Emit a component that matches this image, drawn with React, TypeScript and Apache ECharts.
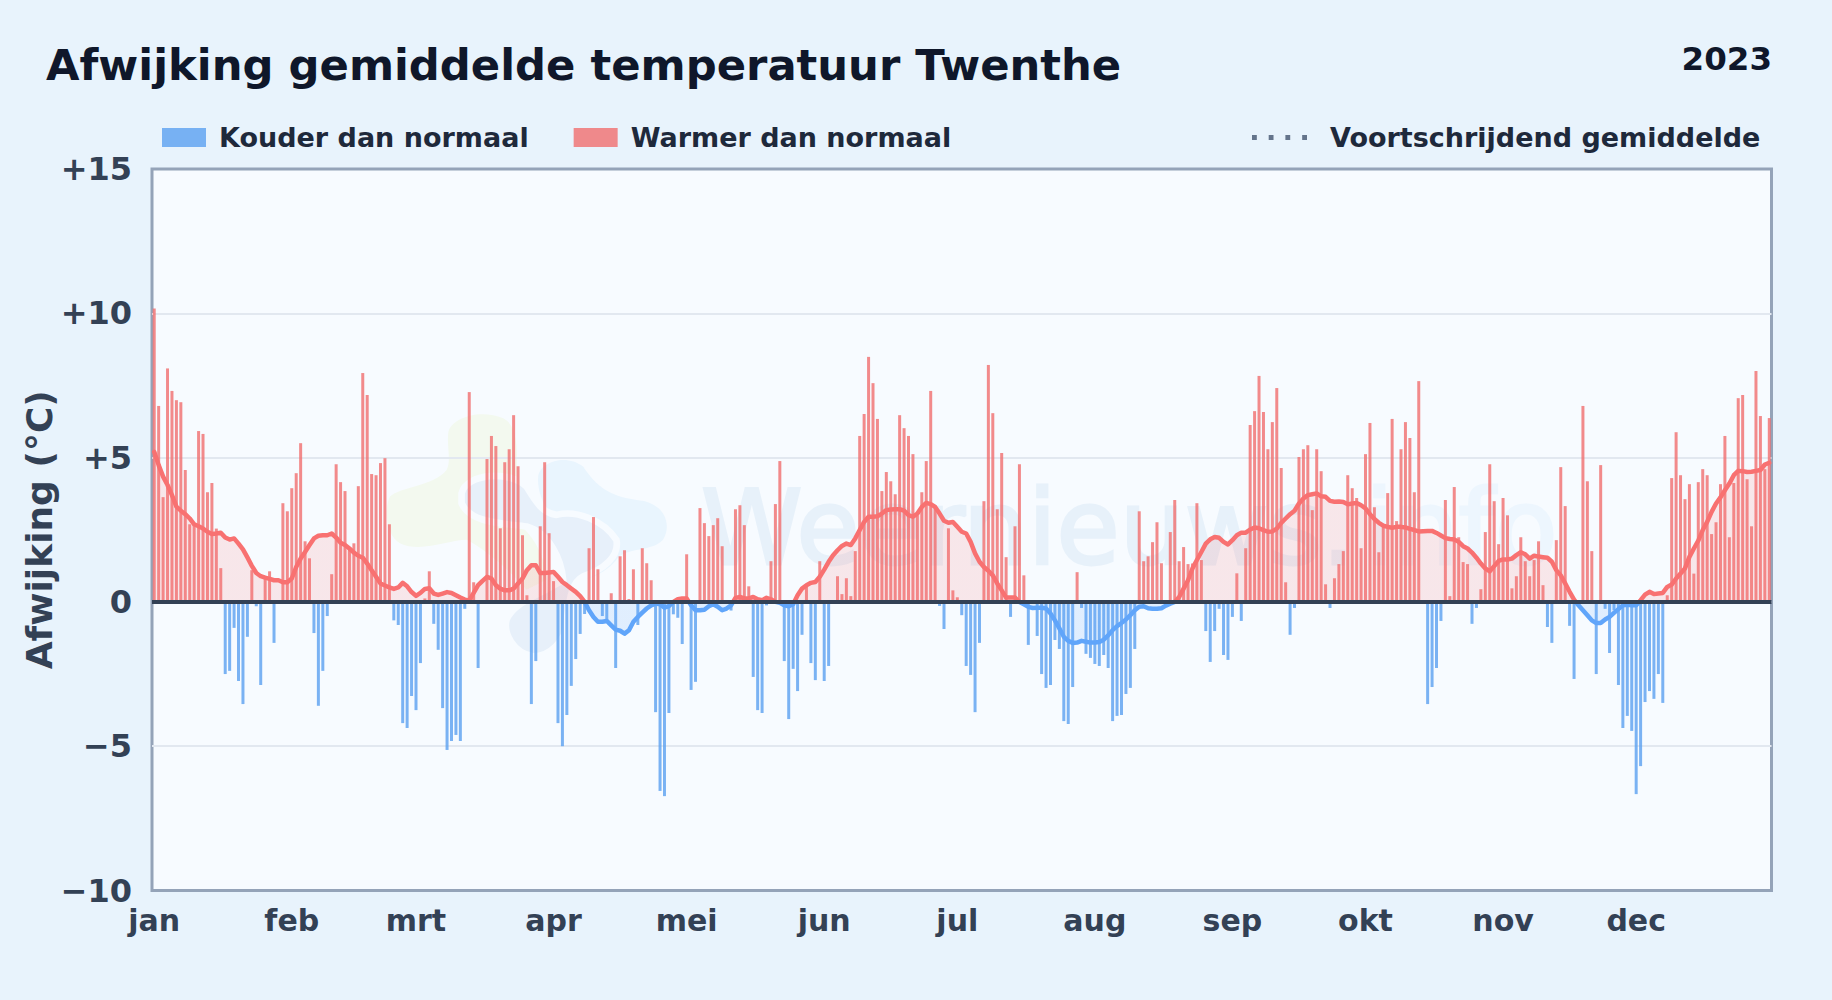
import React, { useEffect, useRef } from "react";
import * as echarts from "echarts";

const janAnomaly = [10.17,6.79,3.63,8.09,7.31,6.99,6.92,4.57,2.69,2.65,5.92,5.82,3.8,4.12,2.54,1.17,-2.5,-2.39,-0.9,-2.74,-3.54,-1.21,1.1,-0.15,-2.88,0.8,1.06,-1.42,0,3.42,3.14];
const febAnomaly = [3.94,4.46,5.5,2.1,1.51,-1.08,-3.6,-2.39,-0.49,0.96,4.77,4.15,3.84,1.85,2.03,4.01,7.93,7.17,4.43,4.39,4.81,4.98,2.69,-0.64,-0.8,-4.2,-4.37,-3.26];
const marAnomaly = [-3.75,-2.12,0.12,1.06,-0.76,-1.66,-3.68,-5.13,-4.82,-4.61,-4.82,-0.24,7.27,0.68,-2.29,0,4.95,5.75,5.4,2.55,4.84,5.29,6.47,4.7,2.31,0.23,-3.54,-2.05,2.62,4.84,2.38];
const aprAnomaly = [0.72,-4.2,-5.0,-3.92,-2.91,-1.98,-1.11,-0.42,1.86,2.94,1.13,-0.49,-0.6,0.3,-2.29,1.58,1.79,0.1,1.13,-0.8,1.86,1.34,0.75,-3.82,-6.55,-6.73,-3.85,-0.43,-0.55,-1.46];
const mayAnomaly = [1.65,-3.05,-2.77,3.25,2.73,2.28,2.66,2.9,1.93,0,-0.3,3.21,3.35,2.66,0.54,-2.6,-3.75,-3.85,-0.12,1.41,3.39,4.88,-2.05,-4.06,-2.32,-3.09,-1.14,0.54,-2.12,-2.71,1.41];
const junAnomaly = [-2.74,-2.22,0,0.89,0.27,0.82,0.2,1.76,5.75,6.51,8.49,7.58,6.34,3.84,4.5,4.18,3.73,6.47,6.02,5.75,5.12,3.0,3.8,4.88,7.31,3.3,-0.14,-0.94,2.55,0.4];
const julAnomaly = [0.16,-0.46,-2.22,-2.53,-3.82,-1.42,3.49,8.21,6.54,3.21,5.16,1.55,-0.52,2.62,4.77,0.92,-1.49,0,-1.18,-2.5,-2.98,-2.88,-1.32,-1.63,-4.13,-4.23,-2.95,1.03,-0.21,-1.8,-1.94];
const augAnomaly = [-2.15,-2.22,-1.84,-2.29,-4.13,-3.95,-3.92,-3.19,-2.98,-1.63,3.14,1.41,1.58,2.07,2.76,1.34,0,2.42,3.53,1.41,1.9,1.31,1.33,3.42,1.45,-1.01,-2.08,-1.01,-0.24,-1.84,-2.01];
const sepAnomaly = [-0.52,0.99,-0.66,1.86,6.13,6.61,7.83,6.58,5.29,6.23,7.41,4.64,0.68,-1.14,-0.21,5.02,5.29,5.43,3.18,5.29,4.53,0.61,-0.21,0.82,1.31,1.76,4.39,3.94,3.6,1.86];
const octAnomaly = [5.12,6.2,3.28,1.72,2.6,3.77,6.34,2.8,5.29,6.23,5.68,3.8,7.65,0,-3.54,-2.95,-2.29,-0.66,3.53,0.2,3.98,2.24,1.38,1.31,-0.76,-0.21,0.44,2.42,4.77,3.49,2.0];
const novAnomaly = [3.6,3.0,0.47,0.89,2.24,1.41,0.89,1.45,2.1,0.58,-0.87,-1.42,2.14,4.67,3.32,-0.83,-2.67,0,6.79,4.18,1.76,-2.5,4.74,-0.24,-1.77,-0.29,-2.88,-4.37,-3.95,-4.47];
const decAnomaly = [-6.66,-5.69,-3.47,-3.09,-3.36,-2.5,-3.5,0.23,4.29,5.88,4.39,3.56,4.08,0.98,4.15,4.6,4.39,2.35,2.76,4.08,5.75,2.24,4.12,7.06,7.17,4.25,2.62,8.0,6.44,4.6,6.37];

const janRolling = [5.2,4.74,4.34,4.05,3.7,3.3,3.16,3.04,2.89,2.69,2.62,2.54,2.43,2.35,2.37,2.4,2.23,2.16,2.2,2.02,1.82,1.54,1.25,1.0,0.89,0.84,0.8,0.75,0.75,0.68,0.68];
const febRolling = [0.81,1.21,1.5,1.73,1.97,2.2,2.29,2.31,2.31,2.37,2.23,2.05,1.97,1.85,1.71,1.6,1.53,1.33,1.1,0.87,0.64,0.57,0.5,0.45,0.5,0.66,0.54,0.34];
const marRolling = [0.21,0.31,0.45,0.47,0.29,0.24,0.29,0.34,0.31,0.23,0.15,0.08,0.05,0.31,0.58,0.73,0.87,0.81,0.58,0.46,0.4,0.4,0.46,0.64,0.81,1.1,1.27,1.27,1.0,1.0,1.02];
const aprRolling = [1.04,0.87,0.69,0.58,0.46,0.35,0.2,0,-0.29,-0.52,-0.69,-0.69,-0.66,-0.81,-0.96,-1.0,-1.1,-0.98,-0.69,-0.52,-0.37,-0.23,-0.12,-0.06,-0.08,-0.2,-0.15,0,0.09,0.12];
const mayRolling = [0.12,-0.12,-0.29,-0.29,-0.27,-0.15,-0.08,-0.17,-0.29,-0.23,-0.12,0.14,0.17,0.12,0.12,0.17,0.09,0.06,0.14,0.09,0,-0.03,-0.12,-0.15,-0.08,0.23,0.46,0.58,0.66,0.69,0.87];
const junRolling = [1.12,1.39,1.62,1.79,1.94,2.02,1.97,2.2,2.49,2.77,2.95,2.95,2.97,3.06,3.18,3.2,3.21,3.21,3.16,3.01,2.95,3.06,3.29,3.43,3.39,3.29,3.06,2.81,2.74,2.77];
const julRolling = [2.6,2.43,2.37,2.08,1.68,1.39,1.21,1.08,0.92,0.64,0.4,0.15,0.15,0.15,0,-0.08,-0.17,-0.21,-0.2,-0.2,-0.23,-0.4,-0.64,-0.92,-1.21,-1.35,-1.42,-1.41,-1.35,-1.38,-1.41];
const augRolling = [-1.41,-1.39,-1.31,-1.16,-0.98,-0.84,-0.73,-0.61,-0.46,-0.29,-0.17,-0.15,-0.22,-0.24,-0.24,-0.22,-0.13,-0.06,0,0.17,0.46,0.75,1.16,1.45,1.73,2.02,2.17,2.25,2.22,2.08,1.99];
const sepRolling = [2.14,2.31,2.4,2.4,2.51,2.58,2.55,2.49,2.43,2.44,2.54,2.74,2.89,3.04,3.16,3.41,3.58,3.7,3.73,3.76,3.66,3.64,3.5,3.47,3.48,3.46,3.38,3.41,3.43,3.35];
const octRolling = [3.24,3.04,2.87,2.74,2.64,2.6,2.57,2.6,2.6,2.58,2.53,2.49,2.44,2.45,2.46,2.46,2.39,2.3,2.21,2.18,2.16,2.08,1.93,1.85,1.71,1.53,1.33,1.16,1.06,1.24,1.42];
const novRolling = [1.47,1.47,1.5,1.62,1.72,1.65,1.5,1.6,1.57,1.55,1.53,1.39,1.1,0.92,0.64,0.35,0.08,-0.12,-0.29,-0.46,-0.64,-0.73,-0.73,-0.61,-0.52,-0.38,-0.25,-0.12,-0.1,-0.12];
const decRolling = [-0.12,0.06,0.25,0.35,0.27,0.29,0.31,0.52,0.6,0.81,0.98,1.16,1.56,1.85,2.12,2.49,2.77,3.12,3.41,3.62,3.87,4.1,4.39,4.54,4.53,4.5,4.51,4.54,4.57,4.76,4.82];

const monthLabels = ["jan","feb","mrt","apr","mei","jun","jul","aug","sep","okt","nov","dec"];
const anomalyByMonth = [janAnomaly,febAnomaly,marAnomaly,aprAnomaly,mayAnomaly,junAnomaly,julAnomaly,augAnomaly,sepAnomaly,octAnomaly,novAnomaly,decAnomaly];
const rollingByMonth = [janRolling,febRolling,marRolling,aprRolling,mayRolling,junRolling,julRolling,augRolling,sepRolling,octRolling,novRolling,decRolling];

const titleText = "Afwijking gemiddelde temperatuur Twenthe";
const yearText = "2023";
const yAxisName = "Afwijking (°C)";
const coldName = "Kouder dan normaal";
const warmName = "Warmer dan normaal";
const rollingName = "Voortschrijdend gemiddelde";

const FONT = "'DejaVu Sans'";
const RED = "#f87171";
const BLUE = "#60a5fa";

const daily = anomalyByMonth.flat();
const rolling = rollingByMonth.flat();
const monthAtDay: Record<string, string> = {};
const categories: string[] = [];
anomalyByMonth.forEach((m, mi) => {
  m.forEach((_, di) => {
    const key = `${mi + 1}-${di + 1}`;
    categories.push(key);
    if (di === 0) monthAtDay[key] = monthLabels[mi];
  });
});
const warm = daily.map((v) => (v > 0 ? v : null));
const cold = daily.map((v) => (v < 0 ? v : null));

echarts.graphic.registerShape("wmGreen", echarts.graphic.extendPath(
  "M235 130C240 85 330 55 400 85C440 105 445 170 440 250L440 400C480 420 530 500 530 570L470 600C440 560 350 480 290 450C240 450 150 490 90 460C50 440 40 360 60 320C90 290 190 290 230 240C245 210 230 170 235 130Z", {}));
echarts.graphic.registerShape("wmLight", echarts.graphic.extendPath(
  "M505 260C510 215 590 190 640 230C680 290 720 320 800 330C880 335 910 400 880 450C840 490 770 470 740 510C700 560 620 590 590 550L580 420C540 380 500 320 505 260Z", {}));
echarts.graphic.registerShape("wmDark", echarts.graphic.extendPath(
  "M275 310C290 250 420 240 470 290C500 340 520 370 560 375C620 360 700 390 740 450C750 500 700 540 640 560C610 575 600 610 590 700C590 750 540 800 490 800C430 790 400 730 410 690C430 640 490 625 580 570C575 510 540 430 470 410C400 400 300 400 275 340Z", {}));

const dotsIcon = "path://M0 0h5v5h-5zM17.3 0h5v5h-5zM34.6 0h5v5h-5zM52 0h5v5h-5z";

export default function App() {
  const ref = useRef<HTMLDivElement>(null);
  useEffect(() => {
    const chart = echarts.init(ref.current!, undefined, { renderer: "svg" });
    const wm = { x: 370, y: 390, scaleX: 1 / 3, scaleY: 1 / 3, z: 0 };
    chart.setOption({
      animation: false,
      backgroundColor: "#e8f3fc",
      title: [
        { text: titleText, left: 41, top: 38, textStyle: { fontFamily: FONT, fontWeight: "bold", fontSize: 43.3, color: "#0f172a" } },
        { text: yearText, right: 55, top: 37, textStyle: { fontFamily: FONT, fontWeight: "bold", fontSize: 32.5, color: "#0f172a" } },
      ],
      legend: [
        {
          left: 157, top: 119, itemWidth: 44, itemHeight: 19, itemGap: 45, selectedMode: false, icon: "rect",
          data: [{ name: coldName }, { name: warmName }],
          textStyle: { fontFamily: FONT, fontWeight: "bold", fontSize: 27, color: "#1e293b", padding: [0, 0, 0, 8] },
        },
        {
          left: 1247, top: 119, itemWidth: 55, itemHeight: 5, selectedMode: false,
          data: [{ name: rollingName, icon: dotsIcon, itemStyle: { color: "#64748b", opacity: 1 } }],
          textStyle: { fontFamily: FONT, fontWeight: "bold", fontSize: 27, color: "#1e293b", padding: [0, 0, 0, 18] },
        },
      ],
      grid: {
        left: 152, right: 60.5, top: 169, bottom: 109.5, show: true, z: -1,
        backgroundColor: "#f7fbff", borderColor: "#94a3b8", borderWidth: 3,
      },
      xAxis: {
        type: "category",
        data: categories,
        boundaryGap: true,
        axisLine: { show: false },
        axisTick: { show: false },
        splitLine: { show: false },
        axisLabel: {
          interval: (_: number, v: string) => v in monthAtDay,
          formatter: (v: string) => monthAtDay[v] ?? "",
          margin: 14.5,
          hideOverlap: false,
          fontFamily: FONT, fontWeight: "bold", fontSize: 30, color: "#334155",
        },
      },
      yAxis: {
        type: "value",
        min: -10, max: 15, interval: 5, z: 1,
        name: yAxisName,
        nameLocation: "middle",
        nameGap: 95,
        nameMoveOverlap: false,
        nameRotate: 90,
        nameTextStyle: { fontFamily: FONT, fontWeight: "bold", fontSize: 36, color: "#334155" },
        axisLine: { show: false },
        axisTick: { show: false },
        splitLine: { showMinLine: false, showMaxLine: false, lineStyle: { color: "#e2e8f0", width: 2 } },
        axisLabel: {
          margin: 20,
          fontFamily: FONT, fontWeight: "bold", fontSize: 32, color: "#334155",
          formatter: (v: number) => (v > 0 ? `+${v}` : v < 0 ? `\u2212${Math.abs(v)}` : "0"),
        },
      },
      visualMap: {
        show: false, type: "piecewise", seriesIndex: 2, dimension: 1,
        pieces: [{ gte: -20, lt: 0, color: BLUE }, { gte: 0, lte: 20, color: RED }],
      },
      series: [
        { name: coldName, type: "bar", stack: "d", data: cold, barWidth: 3, z: 2, itemStyle: { color: "rgba(90,160,240,0.8)" } },
        { name: warmName, type: "bar", stack: "d", data: warm, barWidth: 3, z: 2, itemStyle: { color: "rgba(240,110,110,0.8)" } },
        {
          name: rollingName, type: "line", data: rolling, symbol: "none", z: 3,
          lineStyle: { width: 4.5, join: "round", cap: "round" },
          areaStyle: { opacity: 0.15, origin: 0 },
          markLine: {
            silent: true, symbol: "none", animation: false, z: 5,
            label: { show: false },
            lineStyle: { color: "#334155", width: 4, type: "solid" },
            data: [{ yAxis: 0 }],
          },
        },
      ],
      graphic: [
        { type: "wmGreen", ...wm, style: { fill: "#f3f9ef" } },
        { type: "wmLight", ...wm, style: { fill: "#e9f5fe" } },
        { type: "wmDark", ...wm, style: { fill: "#e7f0fa", stroke: "#f7fbff", lineWidth: 20 } },
        { type: "text", x: 701, y: 528.5, z: 0, style: { text: "Weernieuws.", font: "102.6px 'DejaVu Sans'", fill: "#e7f1fa", stroke: "#e7f1fa", lineWidth: 3, verticalAlign: "middle" } },
        { type: "text", x: 1365, y: 528.5, z: 0, style: { text: "info", font: "102.6px 'DejaVu Sans'", fill: "#edf6fe", stroke: "#edf6fe", lineWidth: 3, verticalAlign: "middle" } },
      ],
    });
    return () => chart.dispose();
  }, []);
  return <div ref={ref} style={{ position: "fixed", left: 0, top: 0, width: 1832, height: 1000 }} />;
}
